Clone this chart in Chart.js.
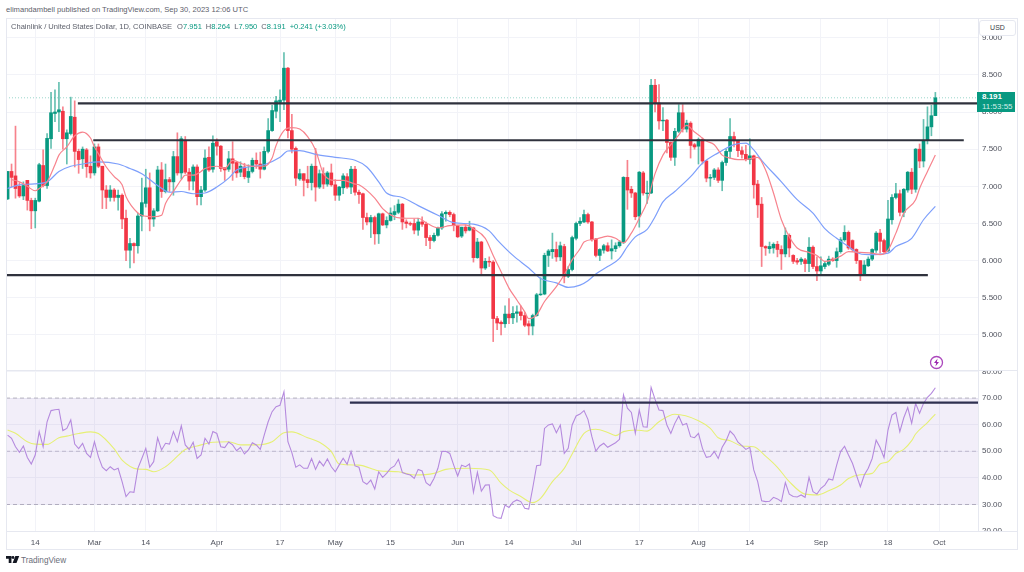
<!DOCTYPE html>
<html><head><meta charset="utf-8">
<script src="https://cdn.jsdelivr.net/npm/chart.js@4"></script>
<style>
html,body{margin:0;padding:0;background:#fff;width:1024px;height:572px;overflow:hidden;font-family:"Liberation Sans",Arial,sans-serif}
canvas{position:absolute;display:block}
.t{position:absolute;white-space:nowrap}
.b{position:absolute;background:#e6e8f0}
.w{position:absolute;background:#fff}
</style></head><body>
<canvas id="pc" width="1012" height="351" style="left:6px;top:19px"></canvas>
<canvas id="rc" width="1012" height="180" style="left:6px;top:370px"></canvas>

<div class="w" style="left:979px;top:362px;width:38px;height:8px"></div>
<div class="w" style="left:979px;top:532px;width:38px;height:17px"></div>
<div class="b" style="left:6px;top:18px;width:1012px;height:1px"></div>
<div class="b" style="left:6px;top:549px;width:1012px;height:1px"></div>
<div class="b" style="left:6px;top:18px;width:1px;height:532px"></div>
<div class="b" style="left:1017px;top:18px;width:1px;height:532px"></div>
<div class="b" style="left:978px;top:18px;width:1px;height:514px"></div>
<div class="b" style="left:6px;top:370px;width:1012px;height:1px"></div>
<div class="b" style="left:6px;top:531px;width:1012px;height:1px"></div>

<div class="t" style="left:6px;top:4px;font-size:7.6px;line-height:11px;color:#5d606b">elimandambell published on TradingView.com, Sep 30, 2023 12:06 UTC</div>
<div class="t" style="left:11px;top:21px;font-size:7.55px;line-height:11px;color:#5d606b">Chainlink / United States Dollar, 1D, COINBASE<span style="margin-left:5px">O</span><span style="color:#089981">7.951</span><span style="margin-left:4px">H</span><span style="color:#089981">8.264</span><span style="margin-left:4px">L</span><span style="color:#089981">7.950</span><span style="margin-left:4px">C</span><span style="color:#089981">8.191</span><span style="margin-left:4px;color:#089981">+0.241 (+3.03%)</span></div>

<div class="t" style="left:979px;top:20px;width:35px;height:14px;background:#fff;border:1px solid #e6e8f0;border-radius:3px;font-size:7px;line-height:14px;text-align:center;color:#3a3d47;box-sizing:content-box">USD</div>
<div class="t" style="left:977px;top:92px;width:38px;height:20px;background:#089981;color:#fff;font-size:8px;line-height:10px;text-align:left;padding-left:0"><div style="margin-left:5px;font-weight:bold">8.191</div><div style="margin-left:5px;color:#d5efea">11:53:55</div></div>

<svg style="position:absolute;left:929px;top:355px" width="15" height="15" viewBox="0 0 15 15"><circle cx="7.5" cy="7.5" r="6" fill="#fff" stroke="#ab47bc" stroke-width="1.3"/><path d="M8.6 3.6L5 8h2.2L6.4 11.4 10 7H7.8z" fill="#9c27b0"/></svg>

<svg style="position:absolute;left:6px;top:556px" width="14" height="8" viewBox="0 0 36 20"><path d="M0 0h14v18H7V7H0zM17 7a3.6 3.6 0 1 0 0-7 3.6 3.6 0 0 0 0 7zM24 0h10l-7 18H17z" fill="#131722"/></svg>
<div class="t" style="left:21px;top:555px;font-size:8.2px;line-height:11px;color:#6a6d78">TradingView</div>

<script>
const opens=[6.83,7.20,7.14,7.00,6.87,7.08,6.81,6.67,6.80,7.28,7.01,7.64,7.98,8.00,8.01,7.64,7.71,7.93,7.47,7.37,7.49,7.27,7.18,7.53,7.27,6.95,6.85,6.95,6.85,6.88,6.57,6.14,6.23,6.20,6.60,6.77,6.98,6.56,6.67,7.22,6.93,7.09,7.06,7.40,7.18,7.62,7.19,7.07,7.26,6.86,6.95,7.39,7.23,7.60,7.54,7.25,7.23,7.37,7.32,7.19,7.26,7.12,7.20,7.35,
7.30,7.23,7.47,7.75,8.01,8.13,8.16,8.59,7.75,7.51,7.10,7.17,7.09,7.05,7.27,6.99,7.17,7.03,7.18,7.02,6.88,6.98,7.13,6.99,7.23,6.92,6.90,6.58,6.52,6.58,6.36,6.63,6.48,6.54,6.62,6.65,6.76,6.52,6.50,6.50,6.41,6.52,6.49,6.31,6.27,6.34,6.44,6.63,6.65,6.62,6.47,6.33,6.45,6.41,6.44,6.04,6.25,5.90,5.99,5.98,5.22,5.17,5.15,5.28,5.23,5.29,5.31,5.26,5.15,5.12,5.26,5.54,5.55,6.07,6.12,6.15,6.05,6.19,5.79,5.88,6.30,6.50,6.52,6.62,6.52,6.29,6.07,6.14,6.20,6.13,6.16,6.20,6.24,7.12,6.96,6.91,6.60,7.18,6.90,6.91,8.36,8.12,7.88,7.89,7.59,7.39,7.74,7.99,7.77,7.85,7.56,7.54,7.63,7.34,7.11,7.12,7.22,7.08,7.32,7.47,7.67,7.61,7.48,7.43,7.36,7.41,7.03,6.76,6.19,6.16,6.17,6.22,6.15,6.09,6.34,6.07,6.00,5.99,6.01,5.96,6.18,5.92,5.86,5.92,5.95,6.02,6.00,6.12,6.28,6.38,6.27,6.15,6.00,5.82,5.93,6.02,6.14,6.37,6.27,6.13,6.55,6.85,6.90,6.65,6.95,7.19,6.96,7.50,7.34,7.62,7.80,7.951];
const closes=[7.20,7.12,6.97,6.87,7.01,6.81,6.67,6.81,7.29,7.01,7.645,7.99,8.00,8.03,7.64,7.72,7.94,7.47,7.36,7.50,7.265,7.18,7.53,7.27,6.95,6.85,6.95,6.85,6.88,6.56,6.14,6.23,6.20,6.60,6.78,6.98,6.56,6.67,7.22,6.93,7.09,7.06,7.40,7.18,7.64,7.19,7.07,7.26,6.86,6.95,7.38,7.22,7.58,7.54,7.24,7.22,7.37,7.31,7.18,7.27,7.13,7.20,7.35,7.30,
7.23,7.47,7.75,8.02,8.15,8.16,8.59,7.75,7.50,7.11,7.17,7.08,7.05,7.27,6.99,7.17,7.03,7.18,7.02,6.88,6.99,7.14,6.99,7.23,6.92,6.89,6.58,6.52,6.58,6.36,6.63,6.48,6.54,6.64,6.66,6.76,6.52,6.50,6.49,6.41,6.52,6.49,6.31,6.27,6.34,6.44,6.63,6.65,6.62,6.47,6.32,6.45,6.40,6.45,6.04,6.25,5.90,5.99,5.98,5.22,5.16,5.15,5.28,5.23,5.29,5.31,5.26,5.13,5.12,5.26,5.54,5.55,6.07,6.13,6.15,6.05,6.20,5.79,5.88,6.31,6.50,6.53,6.62,6.52,6.28,6.07,6.15,6.20,6.13,6.16,6.20,6.25,7.12,6.95,6.91,6.59,7.19,6.91,6.91,8.36,8.12,7.88,7.89,7.59,7.39,7.74,7.99,7.77,7.85,7.55,7.53,7.63,7.34,7.11,7.12,7.22,7.08,7.32,7.47,7.67,7.61,7.48,7.43,7.36,7.41,7.02,6.75,6.19,6.17,6.19,6.22,6.15,6.09,6.34,6.17,5.99,5.98,6.02,5.96,6.18,5.92,5.86,5.93,5.96,6.02,6.00,6.12,6.28,6.38,6.17,6.15,6.00,5.82,5.94,6.02,6.15,6.37,6.26,6.12,6.56,6.85,6.90,6.65,6.96,7.19,6.96,7.50,7.34,7.62,7.80,7.95,8.191];
const highs=[7.20,7.30,7.81,7.05,7.06,7.08,6.84,6.84,7.31,7.49,7.71,8.265,8.30,8.40,8.07,7.76,8.20,8.15,7.50,7.53,7.51,7.41,7.57,7.57,7.27,7.01,7.01,6.97,6.95,6.90,6.68,6.30,6.24,6.64,7.11,7.23,7.18,6.70,7.27,7.32,7.30,7.12,7.47,7.72,7.67,7.67,7.24,7.29,7.29,7.00,7.49,7.53,7.68,7.64,7.55,7.25,7.47,7.60,7.33,7.33,7.31,7.29,7.38,7.45,
7.46,7.53,7.91,8.09,8.21,8.30,8.80,8.60,7.97,7.53,7.23,7.17,7.27,7.30,7.51,7.22,7.25,7.20,7.30,7.09,7.00,7.17,7.17,7.27,7.27,6.95,6.91,6.64,6.61,6.60,6.64,6.64,6.59,6.71,6.74,6.82,6.77,6.55,6.52,6.56,6.57,6.59,6.52,6.34,6.37,6.45,6.66,6.67,6.67,6.64,6.47,6.45,6.48,6.53,6.45,6.30,6.26,6.03,6.05,6.00,5.25,5.19,5.39,5.49,5.38,5.39,5.39,5.30,5.19,5.28,5.56,5.77,6.10,6.15,6.37,6.25,6.25,6.22,5.92,6.33,6.52,6.58,6.68,6.64,6.53,6.30,6.16,6.22,6.24,6.28,6.24,6.27,7.13,7.35,7.00,6.92,7.20,7.20,7.07,8.44,8.44,8.37,8.06,7.90,7.60,7.78,8.10,8.10,7.89,7.87,7.58,7.65,7.65,7.35,7.16,7.24,7.25,7.34,7.50,7.91,7.73,7.62,7.53,7.55,7.64,7.42,7.08,6.85,6.20,6.25,6.24,6.26,6.20,6.44,6.36,6.08,6.03,6.04,6.03,6.31,6.20,6.05,6.05,5.99,6.06,6.04,6.17,6.31,6.47,6.40,6.28,6.16,6.00,6.00,6.05,6.16,6.39,6.42,6.29,6.81,6.89,7.04,6.95,6.97,7.20,7.24,7.51,7.57,7.90,8.07,8.09,8.264];
const lows=[6.82,6.995,6.84,6.85,6.82,6.68,6.43,6.44,6.79,6.99,6.97,7.51,7.87,7.735,7.50,7.30,7.69,7.26,7.175,7.24,7.12,7.11,7.15,7.25,6.70,6.70,6.80,6.80,6.68,6.43,6.00,5.90,5.97,6.10,6.40,6.72,6.40,6.46,6.66,6.85,6.91,6.93,6.88,7.15,7.10,7.17,6.95,6.95,6.75,6.75,6.93,7.20,7.19,7.42,7.20,7.08,7.20,7.08,7.12,7.13,7.10,7.05,7.18,7.24,
7.11,7.22,7.45,7.74,7.92,7.87,8.03,7.65,7.45,7.01,7.08,6.87,6.98,6.95,6.80,6.97,6.97,7.00,7.00,6.81,6.81,6.90,6.97,6.90,6.88,6.77,6.42,6.48,6.31,6.22,6.23,6.47,6.44,6.53,6.55,6.63,6.42,6.44,6.47,6.36,6.34,6.46,6.20,6.16,6.25,6.33,6.42,6.53,6.59,6.40,6.31,6.31,6.37,6.40,5.98,6.03,5.82,5.88,5.92,4.91,5.07,5.00,5.10,5.15,5.15,5.17,5.20,5.11,5.00,5.00,5.25,5.53,5.54,5.92,6.03,5.99,6.00,5.70,5.77,5.86,6.28,6.47,6.51,6.50,6.26,6.05,6.00,6.10,6.12,6.02,6.12,6.18,6.23,6.69,6.85,6.55,6.45,6.88,6.77,6.90,8.00,7.77,7.75,7.45,7.35,7.28,7.72,7.73,7.73,7.38,7.50,7.30,7.30,7.06,7.00,7.09,7.05,6.94,7.28,7.38,7.53,7.40,7.38,7.34,7.30,6.84,6.58,5.92,6.07,6.10,6.10,6.05,5.88,6.05,6.05,5.96,5.95,5.95,5.85,5.85,5.89,5.73,5.80,5.89,5.93,5.99,5.91,6.10,6.26,6.15,6.12,5.96,5.73,5.80,5.92,6.00,6.11,6.10,6.10,6.12,6.49,6.83,6.60,6.59,6.92,6.90,6.92,7.25,7.26,7.57,7.68,7.95];

const redIdx=[1,3,5,7,8,10,12,13,15,17,19,21,22,23,25,27,29,30,33,34,37,39,40,42,44,45,47,49,50,53,55,57,60,62,65,67,68,70,72,74,76,78,80,83,85,88,89,93,95,98,101,104,106,109,112,116,118,121,123,125,127,129,131,132,134,136,139,141,143,145,146,149,151,152,154,156,158,160,162,164,166,168,170,172,174,175,177,179,181,183,185,187,190,192,194,196,198,200,203,205,207,209,211,213,216,219,221,223,225,227,230,231,233,235];
const redVals=[7.09,7.06,7.00,6.94,6.97,7.06,7.29,7.42,7.53,7.68,7.73,7.65,7.53,7.44,7.26,7.13,7.02,6.86,6.64,6.61,6.59,6.61,6.77,6.93,7.09,7.15,7.15,7.20,7.24,7.27,7.24,7.35,7.29,7.27,7.27,7.38,7.55,7.75,7.79,7.77,7.67,7.49,7.17,7.08,7.08,7.03,7.02,6.84,6.70,6.59,6.57,6.57,6.51,6.44,6.47,6.48,6.43,6.30,6.07,5.85,5.63,5.47,5.31,5.22,5.27,5.45,5.65,5.81,6.01,6.16,6.25,6.29,6.32,6.33,6.30,6.24,6.37,6.57,6.79,7.17,7.42,7.56,7.69,7.82,7.73,7.69,7.61,7.56,7.42,7.38,7.36,7.36,7.39,7.22,6.91,6.55,6.32,6.17,6.11,6.07,5.99,6.01,6.06,6.12,6.11,6.10,6.08,6.14,6.37,6.64,6.82,6.97,7.20,7.42];
const blueIdx=[0,3,6,10,13,16,19,23,28,31,34,38,41,44,47,50,53,56,58,61,65,69,71,74,78,83,88,91,94,96,100,104,109,113,118,122,124,128,132,135,139,142,145,147,149,152,155,157,159,162,164,166,169,173,176,180,184,187,189,191,196,200,204,207,210,213,215,218,223,225,229,232,235];
const blueVals=[6.97,7.02,7.03,7.06,7.20,7.27,7.30,7.33,7.30,7.24,7.17,7.01,6.92,6.93,6.90,6.91,6.99,7.11,7.22,7.26,7.29,7.39,7.475,7.48,7.43,7.39,7.35,7.26,7.06,6.91,6.85,6.74,6.61,6.51,6.49,6.40,6.28,6.07,5.90,5.76,5.70,5.64,5.67,5.73,5.82,5.92,6.03,6.19,6.32,6.42,6.59,6.79,6.93,7.13,7.31,7.45,7.56,7.58,7.49,7.35,7.06,6.82,6.64,6.43,6.30,6.19,6.11,6.08,6.10,6.19,6.30,6.55,6.73];

const rsiVals=[56.1,54.9,51.7,49.6,52,47.7,45.2,48.6,57.4,51.7,61.1,65.3,65.6,65.8,57.8,58.6,61.8,52.7,51,53,49.2,47.7,53.6,48,44,42.7,44.2,43,43.6,38.6,33,34.8,34.6,43.6,47.3,51.1,44,46.1,55.1,50.5,53,52.7,57.4,53.6,59.6,52.4,50.7,53.4,47.3,48.6,54.9,52.7,57.4,56.7,51.7,51.4,53.5,52.4,50.2,51.5,49,50.5,53.2,52.4,50.7,56.1,61.1,64.9,66.8,67.3,72.4,53.6,49.5,44,44.9,43.6,43.6,47.3,43.2,46.3,44.5,47.1,44.2,42.3,44.9,47.4,45.1,49.9,44.5,44,38.6,37.6,39.2,35.8,42.3,40.2,41.7,43.6,44.5,47,42,41.5,41.1,39.8,43.2,42.6,38.2,37.1,39.8,43.6,49.9,50,49.2,44.8,40.7,44.8,44.2,45.2,34.6,42.1,35,37.3,37.4,25.8,25,24.8,29.8,28.9,30.9,31.7,31.1,28.6,28.3,36.1,44.6,44.8,58.6,59.9,60.3,57,59.9,49.2,51.1,59.9,63.3,64,65.3,62,55.5,50.1,52,53,51.5,52.4,53.2,54.5,71.2,66.2,64.6,56.7,65.5,59.2,59.1,74,69.5,65.5,65.3,59.9,56.7,60.5,63.3,59.9,60.5,55.5,55.1,56.7,51.1,47.7,48,49.9,47.3,51.5,54,57.6,56.1,53.4,52.1,50.7,51.5,43,38.6,31.4,31.1,31.2,32.7,32.1,31.1,38.2,33.9,33,32.8,33.6,32.7,40.2,34.8,33.9,36.1,37.3,39.6,39.2,44.8,49.9,51.9,48.6,45.5,41.1,36.7,41.1,43.6,47.3,54.2,51.4,47.6,58,63.6,64.6,57.4,62.6,66.4,60.5,68,64.3,68,70.3,71.8,73.9];
const rsiMaIdx=[0,2,5,7,10,13,15,18,21,23,27,29,33,35,37,40,42,45,48,52,56,59,63,67,70,72,76,79,82,84,89,94,99,103,108,111,117,122,125,127,130,133,135,138,141,143,146,149,152,154,156,159,162,165,169,175,178,180,183,186,189,192,195,198,202,205,208,211,213,216,219,221,223,225,227,229,230,233,235];
const rsiMaVals=[58,56.75,53.6,52.7,52.6,55.1,55.7,56.7,57.3,56.7,50.9,46.7,43.3,43.2,42.3,44.2,46.7,50.7,52,53.4,53.6,52.4,52.4,53.6,57,57.3,55.1,53.4,49.9,45.2,44.8,42.7,42.3,41.1,41.7,43.2,43.6,43,38,35.5,33,30.7,32.3,38.6,43.6,49,56.7,58.3,57.1,55.9,57.4,58,57.6,61.1,63.9,61.5,58.6,55.1,54,52,51.7,48.2,44,38.6,33.9,33.6,35.2,37.3,39.8,41.2,41.7,45.2,46.1,49.2,50.7,54,56.5,60.8,64];

const priceTicks=[5,5.5,6,6.5,7,7.5,8,8.5,9];
const rsiTicks=[20,30,40,50,60,70,80];
const xTickIdx=[7,22,35,53,69,83,97,114,127,144,160,175,188,206,223,236];
const xTickLabels=['14','Mar','14','Apr','17','May','15','Jun','14','Jul','17','Aug','14','Sep','18','Oct'];

const upperLevel=[8.117,17.8,245.9];
const middleLevel=[7.62,21.7,242.2];
const lowerLevel=[5.805,-0.5,233.1];
const rsiLevel=[68.3,86.7,245.9];
const lastPrice=8.191;

const GREEN='#089981',RED='#f23645',GRID='#f2f3f8',TXT='#50535e',XMIN=-0.405,XMAX=245.8;
const idx=opens.map((_,i)=>i);
const colors=idx.map(i=>closes[i]>=opens[i]?GREEN:RED);
const wickColors=idx.map(i=>closes[i]>=opens[i]?'rgba(8,153,129,.62)':'rgba(242,54,69,.62)');
const pairs=(a,b)=>a.map((x,i)=>({x,y:b[i]}));
const level=(l,c,w)=>({type:'line',data:[{x:l[1],y:l[0]},{x:l[2],y:l[0]}],borderColor:c,borderWidth:w,pointRadius:0,order:0});
const tickFont={family:'"Liberation Sans",Arial,sans-serif',size:8};
function yAxis(ticks,min,max,dec){return {position:'right',min,max,
  afterBuildTicks(s){s.ticks=ticks.map(v=>({value:v}))},
  afterFit(s){s.width=40;s.paddingTop=0;s.paddingBottom=0},
  border:{display:false},
  grid:{color:GRID,lineWidth:1,drawTicks:false},
  ticks:{color:TXT,font:tickFont,padding:4,autoSkip:false,callback:v=>Number(v).toFixed(dec)}}}
function xAxis(showLabels){return {type:'linear',min:XMIN,max:XMAX,offset:false,
  afterBuildTicks(s){s.ticks=xTickIdx.map(v=>({value:v}))},
  afterFit(s){s.height=showLabels?18.5:0;s.paddingLeft=0;s.paddingRight=0},
  border:{display:false},
  grid:{color:GRID,lineWidth:1,drawTicks:false,offset:false},
  ticks:{display:showLabels,color:TXT,font:tickFont,padding:6,autoSkip:false,maxRotation:0,callback:v=>xTickLabels[xTickIdx.indexOf(v)]}}}
const base={responsive:false,animation:false,events:[],layout:{padding:0},plugins:{legend:{display:false},tooltip:{enabled:false}}};

new Chart(document.getElementById('pc'),{data:{datasets:[
  level(upperLevel,'#2f323d',2.2),level(middleLevel,'#2f323d',2.2),level(lowerLevel,'#2f323d',2.2),
  {type:'line',data:pairs(redIdx,redVals),borderColor:'#f7838d',borderWidth:1.2,pointRadius:0,cubicInterpolationMode:'monotone',order:1},
  {type:'line',data:pairs(blueIdx,blueVals),borderColor:'#7d9ffb',borderWidth:1.2,pointRadius:0,cubicInterpolationMode:'monotone',order:1},
  {type:'bar',data:idx.map(i=>({x:i,y:[opens[i],closes[i]]})),backgroundColor:colors,barThickness:3,grouped:false,order:2},
  {type:'bar',data:idx.map(i=>({x:i,y:[lows[i],highs[i]]})),backgroundColor:wickColors,barThickness:1,grouped:false,order:3},
  {type:'line',data:[{x:XMIN,y:lastPrice},{x:XMAX,y:lastPrice}],borderColor:'#9bd6cb',borderWidth:1,borderDash:[1,2],pointRadius:0,order:4}
]},options:{...base,scales:{x:xAxis(false),y:yAxis(priceTicks,4.5276,9.2517,3)}}});

new Chart(document.getElementById('rc'),{data:{datasets:[
  level(rsiLevel,'#2f3050',2.2),
  {type:'line',data:pairs(idx,rsiVals),borderColor:'#b58ade',borderWidth:1.1,pointRadius:0,order:1},
  {type:'line',data:pairs(rsiMaIdx,rsiMaVals),borderColor:'#e6f075',borderWidth:1.1,pointRadius:0,cubicInterpolationMode:'monotone',order:2},
  {type:'line',data:[{x:XMIN,y:70},{x:XMAX,y:70}],borderColor:'#b5b3bf',borderWidth:1,borderDash:[4,3],pointRadius:0,fill:{value:30},backgroundColor:'rgba(126,87,194,.1)',order:3},
  {type:'line',data:[{x:XMIN,y:50},{x:XMAX,y:50}],borderColor:'#c3c1cc',borderWidth:1,borderDash:[4,3],pointRadius:0,order:3},
  {type:'line',data:[{x:XMIN,y:30},{x:XMAX,y:30}],borderColor:'#b5b3bf',borderWidth:1,borderDash:[4,3],pointRadius:0,order:3}
]},options:{...base,scales:{x:xAxis(true),y:yAxis(rsiTicks,19.85,80.56,2)}}});
</script>
</body></html>
